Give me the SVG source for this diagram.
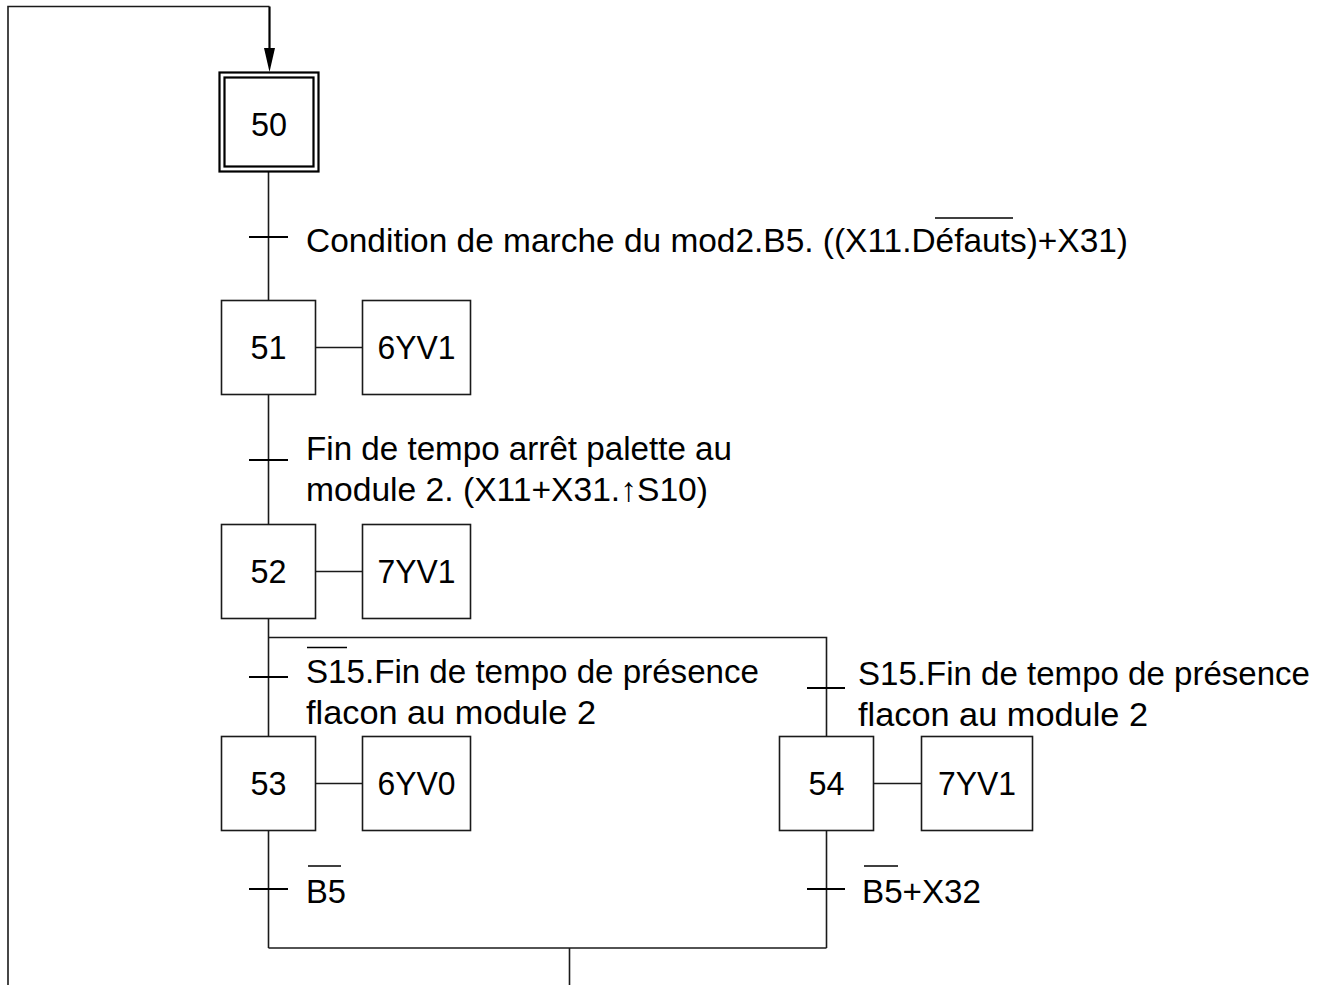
<svg xmlns="http://www.w3.org/2000/svg" width="1327" height="985" viewBox="0 0 1327 985">
<defs>
<style>
.ln{fill:none;stroke:#1a1a1a;stroke-width:1.6}
.bx{fill:#fff;stroke:#1a1a1a;stroke-width:1.6}
.bar{stroke:#000;stroke-width:2.2}
.t{font-family:"Liberation Sans",Arial,sans-serif;font-size:34px;fill:#000}
.c{text-anchor:middle}
.ov{stroke:#000;stroke-width:1.5}
</style>
</defs>
<rect width="1327" height="985" fill="#fff"/>
<g id="connectors">
<path class="ln" d="M8 985 V6.5 H269.5"/>
<line x1="269.5" y1="6.5" x2="269.5" y2="49" stroke="#000" stroke-width="2.2"/>
<path d="M264 48 L275 48 L269.5 72 Z" fill="#000"/>
<line class="ln" x1="268.5" y1="172" x2="268.5" y2="300.5"/>
<line class="ln" x1="268.5" y1="394.5" x2="268.5" y2="524.5"/>
<line class="ln" x1="268.5" y1="618.5" x2="268.5" y2="736.5"/>
<path class="ln" d="M268.5 637.5 H826.5 V736.5"/>
<line class="ln" x1="268.5" y1="830.5" x2="268.5" y2="948"/>
<line class="ln" x1="826.5" y1="830.5" x2="826.5" y2="948"/>
<line class="ln" x1="268.5" y1="948" x2="826.5" y2="948"/>
<line class="ln" x1="569.5" y1="948" x2="569.5" y2="985"/>
<line class="ln" x1="315.5" y1="347.5" x2="362.5" y2="347.5"/>
<line class="ln" x1="315.5" y1="571.5" x2="362.5" y2="571.5"/>
<line class="ln" x1="315.5" y1="783.5" x2="362.5" y2="783.5"/>
<line class="ln" x1="873.5" y1="783.5" x2="921.5" y2="783.5"/>
</g>
<g id="transition-1">
<line class="bar" x1="249" y1="237" x2="288" y2="237"/>
<text class="t" x="306" y="252" textLength="822" lengthAdjust="spacingAndGlyphs">Condition de marche du mod2.B5. ((X11.Défauts)+X31)</text>
<line class="ov" x1="935" y1="218" x2="1013" y2="218"/>
</g>
<g id="transition-2">
<line class="bar" x1="249" y1="460" x2="288" y2="460"/>
<text class="t" x="306" y="460" textLength="426" lengthAdjust="spacingAndGlyphs">Fin de tempo arrêt palette au</text>
<text class="t" x="306" y="501" textLength="402" lengthAdjust="spacingAndGlyphs" font-family="'Liberation Sans','DejaVu Sans',sans-serif">module 2. (X11+X31.↑S10)</text>
</g>
<g id="transition-3">
<line class="bar" x1="249" y1="677" x2="288" y2="677"/>
<text class="t" x="306" y="683" textLength="453" lengthAdjust="spacingAndGlyphs">S15.Fin de tempo de présence</text>
<text class="t" x="306" y="724" textLength="290" lengthAdjust="spacingAndGlyphs">flacon au module 2</text>
<line class="ov" x1="307" y1="647.5" x2="347" y2="647.5"/>
</g>
<g id="transition-4">
<line class="bar" x1="807" y1="688" x2="845" y2="688"/>
<text class="t" x="858" y="685" textLength="452" lengthAdjust="spacingAndGlyphs">S15.Fin de tempo de présence</text>
<text class="t" x="858" y="726" textLength="290" lengthAdjust="spacingAndGlyphs">flacon au module 2</text>
</g>
<g id="transition-5">
<line class="bar" x1="249" y1="889" x2="288" y2="889"/>
<text class="t" x="306" y="903" textLength="40" lengthAdjust="spacingAndGlyphs">B5</text>
<line class="ov" x1="308" y1="866" x2="341" y2="866"/>
</g>
<g id="transition-6">
<line class="bar" x1="807" y1="889" x2="845" y2="889"/>
<text class="t" x="862" y="903" textLength="119" lengthAdjust="spacingAndGlyphs">B5+X32</text>
<line class="ov" x1="864" y1="866" x2="898" y2="866"/>
</g>
<g id="step-50">
<rect x="219.5" y="72.5" width="99" height="99" fill="#fff" stroke="#000" stroke-width="2.2"/>
<rect x="224.5" y="77.5" width="89" height="89" fill="none" stroke="#000" stroke-width="2.2"/>
<text class="t c" x="269" y="136" textLength="36" lengthAdjust="spacingAndGlyphs">50</text>
</g>
<g id="step-51">
<rect class="bx" x="221.5" y="300.5" width="94" height="94"/>
<text class="t c" x="268.5" y="359" textLength="36" lengthAdjust="spacingAndGlyphs">51</text>
</g>
<g id="action-51">
<rect class="bx" x="362.5" y="300.5" width="108" height="94"/>
<text class="t c" x="416.5" y="359" textLength="78" lengthAdjust="spacingAndGlyphs">6YV1</text>
</g>
<g id="step-52">
<rect class="bx" x="221.5" y="524.5" width="94" height="94"/>
<text class="t c" x="268.5" y="583" textLength="36" lengthAdjust="spacingAndGlyphs">52</text>
</g>
<g id="action-52">
<rect class="bx" x="362.5" y="524.5" width="108" height="94"/>
<text class="t c" x="416.5" y="583" textLength="78" lengthAdjust="spacingAndGlyphs">7YV1</text>
</g>
<g id="step-53">
<rect class="bx" x="221.5" y="736.5" width="94" height="94"/>
<text class="t c" x="268.5" y="795" textLength="36" lengthAdjust="spacingAndGlyphs">53</text>
</g>
<g id="action-53">
<rect class="bx" x="362.5" y="736.5" width="108" height="94"/>
<text class="t c" x="416.5" y="795" textLength="78" lengthAdjust="spacingAndGlyphs">6YV0</text>
</g>
<g id="step-54">
<rect class="bx" x="779.5" y="736.5" width="94" height="94"/>
<text class="t c" x="826.5" y="795" textLength="36" lengthAdjust="spacingAndGlyphs">54</text>
</g>
<g id="action-54">
<rect class="bx" x="921.5" y="736.5" width="111" height="94"/>
<text class="t c" x="977" y="795" textLength="78" lengthAdjust="spacingAndGlyphs">7YV1</text>
</g>
</svg>
